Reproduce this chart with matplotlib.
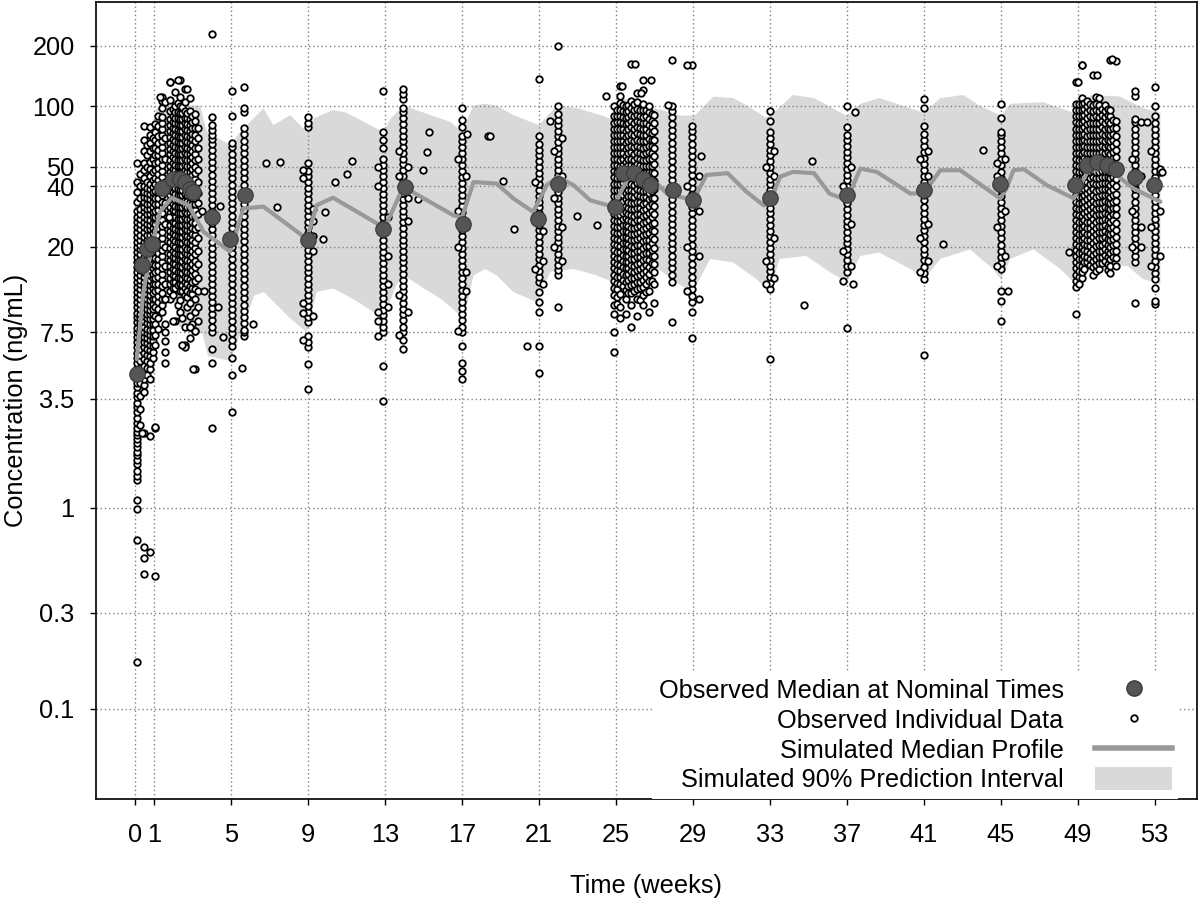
import numpy as np
import matplotlib
matplotlib.use("Agg")
import matplotlib.pyplot as plt
from matplotlib.lines import Line2D
from matplotlib.patches import Patch

plt.rcParams['font.family'] = ['Liberation Sans', 'DejaVu Sans']

# ---------------- data ----------------
xticks = [0, 1, 5, 9, 13, 17, 21, 25, 29, 33, 37, 41, 45, 49, 53]
yticks = [0.1, 0.3, 1, 3.5, 7.5, 20, 40, 50, 100, 200]
ytick_labels = ["0.1", "0.3", "1", "3.5", "7.5", "20", "40", "50", "100", "200"]

# simulated 90% prediction interval
pi_upper_t = [0.1, 0.5, 1.1, 1.35, 3.39, 3.74, 4.95, 5.47, 6.68, 7.2, 8.07, 8.93, 9.28, 10.3, 11.0,
              12.9, 13.3, 13.95, 16.38, 17.0, 17.6, 18.2, 18.8, 19.67, 21.0, 21.93, 23.0, 24.3, 25.05,
              25.4, 27.0, 28.4, 29.1, 30.07, 31.1, 31.8, 32.8, 33.2, 34.2, 35.3, 36.7, 37.0, 37.7,
              38.7, 40.3, 41.0, 41.86, 43.06, 43.9, 45.0, 45.5, 47.2, 48.8, 49.7, 51.2, 52.4, 53.3]
pi_upper_v = [12, 40, 97, 101, 101, 74.7, 64.2, 74.7, 97.7, 80.7, 90.5, 74.7, 87, 96, 93,
              74.7, 87, 101, 83.9, 75, 101, 103, 101, 90.5, 80.7, 101, 98, 90, 84,
              109.6, 98, 90, 90, 112, 110, 101, 88, 93, 114, 110, 93, 90, 103,
              110, 98, 93, 110, 114, 101, 90, 103, 105, 93, 114, 112, 98, 93]
pi_lower_t = [0.1, 0.5, 1.0, 1.35, 1.95, 2.3, 3.5, 3.8, 4.95, 5.5, 6.2, 6.7, 8.07, 8.93, 9.45, 10.3,
              11.4, 12.9, 13.6, 13.95, 15.9, 17.1, 17.6, 18.2, 18.8, 19.67, 20.9, 21.6, 22.8, 24.0,
              24.87, 25.57, 27.0, 28.4, 29.0, 29.9, 31.1, 32.3, 33.0, 33.5, 34.9, 36.1, 37.0, 37.7,
              38.7, 40.3, 41.0, 41.86, 43.4, 44.6, 45.0, 45.5, 46.7, 48.1, 48.8, 49.5, 51.6, 52.4, 53.3]
pi_lower_v = [2.2, 4.5, 7.5, 11.5, 11.5, 8.0, 7.5, 5.7, 5.4, 7.5, 11.4, 11.9, 8.8, 7.5, 11.9, 12.4,
              10.9, 8.8, 12.9, 14.4, 11, 8.8, 14.4, 15.5, 14.4, 11.9, 10.6, 15, 15.5, 14.4,
              13.3, 16.7, 16, 12.8, 11.9, 17.4, 16.7, 13.8, 11.9, 17.4, 18, 15, 13.3, 18,
              18.7, 15.5, 13.8, 17.4, 19.4, 15.5, 13.8, 17.4, 19.4, 15.5, 13.3, 16.7, 16, 13.8, 13]

# simulated median profile
sim_t = [0.1, 0.44, 0.88, 1.31, 1.92, 2.78, 3.56, 4.95, 5.64, 6.68, 8.93, 9.45, 10.3, 12.74, 13.0,
         13.95, 16.55, 17.0, 17.6, 18.8, 19.67, 20.7, 21.4, 22.0, 22.8, 23.66, 24.87, 25.57, 26.1,
         26.95, 27.65, 29.03, 29.7, 30.8, 31.8, 32.67, 33.0, 33.53, 34.2, 35.3, 36.1, 37.0, 37.7,
         38.56, 40.3, 41.0, 41.86, 42.9, 44.97, 45.3, 45.66, 46.2, 47.4, 48.8, 49.5, 50.2, 50.9,
         51.9, 53.3]
sim_med = [5.5, 11.9, 20.2, 29.9, 35.1, 32.2, 23.8, 18.9, 31, 31.7, 21.9, 32.2, 35.1, 25.6, 25,
           39.8, 28.7, 28, 42, 41.3, 34.8, 29.8, 40.5, 44.6, 40.5, 34.1, 31.6, 43, 46.5,
           43, 36.8, 34.1, 45.5, 46.5, 37.5, 32.2, 33, 44.6, 47.2, 46.5, 36.8, 34.1, 49,
           47.2, 36.8, 37, 48.1, 48.1, 34.8, 39, 48.1, 48.7, 40.5, 34.8, 47.2, 49, 46.5,
           39, 33.5]

# observed medians at nominal times
med_t = [0.12, 0.36, 0.62, 0.88, 1.4, 2.0, 2.35, 2.6, 2.87, 3.04, 4.0, 4.95, 5.73, 9.02, 12.9,
         14.04, 17.07, 20.97, 22.0, 24.96, 25.39, 25.95, 26.43, 26.78, 27.99, 29.03, 33.0, 37.0,
         41.0, 44.97, 48.87, 49.5, 50.0, 50.5, 51.0, 51.98, 52.94]
med_v = [4.66, 16.2, 19.5, 20.7, 39.3, 43.7, 43.7, 42, 39, 37.5, 28.2, 21.9, 36.1, 21.5, 24.6,
         39.8, 26.1, 27.6, 41.3, 31.6, 46.5, 46.5, 43.7, 40.5, 38.2, 34.1, 34.8, 36.1,
         38.2, 41.3, 40.5, 51, 53, 51, 49, 44.6, 40.5]

# observed individual data, grouped by sampling column (time in weeks -> concentrations)
obs_w0a = [0.17, 0.69, 0.99, 1.1, 1.38, 1.44, 1.52, 1.65, 1.74, 1.84, 1.9, 2.0, 2.1, 2.2, 2.3, 2.4,
           2.5, 2.65, 2.8, 3.0, 3.2, 3.35, 3.55, 3.75, 4.0, 4.2, 4.45, 4.7, 5.0, 5.3, 5.6, 5.9, 6.3,
           6.7, 7.1, 7.5, 7.9, 8.4, 8.9, 9.4, 10, 10.6, 11.2, 11.9, 12.6, 13.3, 14.1, 15, 15.8, 16.8,
           17.8, 18.8, 20, 21, 22.4, 23.7, 25, 26.6, 28, 30, 33.5, 37.6, 42, 52]
obs_w0i = [2.6, 3.1, 3.6, 4.2, 4.6, 5.0, 5.4, 5.8, 6.2, 6.6, 7.0, 7.4, 7.8, 8.3, 8.8, 9.3, 9.8,
           10.4, 11.0, 11.6, 12.3, 13.0, 13.7, 14.5, 15.4, 16.3, 17.3, 18.3, 19.4, 20.5, 21.7, 23.0,
           24.4, 25.9, 27.5, 29.2, 31, 35, 40, 46]
obs_w0b = [0.64, 0.56, 0.47, 2.36, 3.8, 4.1, 4.4, 4.8, 5.1, 5.5, 5.9, 6.3, 6.7, 7.1, 7.5, 8.0,
           8.5, 9.0, 9.5, 10, 10.6, 11.2, 11.9, 12.6, 13.3, 14.1, 15, 15.8, 16.8, 17.8, 18.8, 20, 21,
           22.4, 23.7, 25, 26.6, 28, 30, 31.6, 33.5, 35.5, 37.6, 40, 44, 48, 52, 60, 68, 80]
obs_w0j = [4.6, 5.0, 5.4, 5.8, 6.2, 6.6, 7.0, 7.4, 7.8, 8.3, 8.8, 9.3, 9.8, 10.4, 11.0, 11.6, 12.3,
           13.0, 13.7, 14.5, 15.4, 16.3, 17.3, 18.3, 19.4, 20.5, 21.7, 23.0, 24.4, 25.9, 27.5, 29.2,
           31, 32.8, 34.8, 36.9, 39.1, 42, 50, 57, 64]
obs_w0c = [0.6, 2.27, 4.4, 4.9, 5.3, 5.7, 6.1, 6.5, 6.9, 7.3, 7.7, 8.2, 8.7, 9.2, 9.7, 10.3, 10.9,
           11.5, 12.2, 12.9, 13.7, 14.5, 15.4, 16.3, 17.3, 18.3, 19.4, 20.5, 21.7, 23, 24.4, 25.8,
           27.3, 29, 30.7, 32.5, 34.4, 36.5, 38.6, 41, 45, 49, 53, 60, 66, 72, 79]
obs_w0k = [5.6, 6.0, 6.4, 6.8, 7.2, 7.7, 8.2, 8.7, 9.2, 9.8, 10.4, 11.0, 11.7, 12.4, 13.1, 13.9,
           14.7, 15.6, 16.5, 17.5, 18.6, 19.7, 20.9, 22.2, 23.5, 24.9, 26.4, 28, 29.7, 31.5, 33.4,
           35.4, 37.5, 39.8, 43, 47, 55, 62, 70]
obs_w0d = [0.46, 2.5, 2.52, 6.5, 7.3, 8.2, 9.0, 10, 11, 12, 13, 14, 15, 16.3, 17.5, 19, 20.5, 22,
           24, 26, 28, 30, 32.5, 35, 38, 41, 44, 48, 52, 57, 62, 68, 75, 82]
obs_w1i = [7.8, 8.8, 9.8, 10.6, 11.4, 12.2, 13.1, 14.1, 15.1, 16.2, 17.4, 18.7, 20, 21.5, 23, 24.7,
           26.5, 28.4, 30.4, 32.6, 35, 37.5, 40.2, 43.1, 46.2, 49.5, 53, 57, 61, 66, 71, 80, 90]
obs_w1a = [9.5, 10.2, 11, 11.8, 12.7, 13.6, 14.6, 15.7, 16.8, 18, 19.3, 20.7, 22.2, 23.8, 25.5,
           27.3, 29.3, 31.4, 33.6, 36, 38.6, 41.4, 44.4, 47.6, 51, 54.6, 58.5, 62.7, 67, 72, 77,
           83, 89, 98, 106, 111]
obs_w1b = [5.3, 6.0, 6.8, 7.5, 8.2, 11, 13, 16, 20, 26, 33, 42, 55, 70, 105]
obs_w2a = [11, 12, 13, 14, 15, 16, 17.2, 18.4, 19.7, 21, 22.5, 24, 25.7, 27.5, 29.4, 31.5, 33.7,
           36, 38.5, 41.2, 44, 47, 50.4, 54, 57.7, 61.7, 66, 70.6, 75.5, 81, 87, 95, 108, 133]
obs_w2i = [11.5, 12.4, 13.4, 14.4, 15.5, 16.6, 17.8, 19.1, 20.4, 21.8, 23.3, 24.9, 26.6, 28.5,
           30.5, 32.6, 34.9, 37.3, 39.9, 42.7, 45.7, 48.9, 52.3, 56, 59.9, 64.1, 68.6, 73.4, 78.5,
           84, 90, 97]
obs_w2b = [8.5, 12.5, 13.4, 14.3, 15.3, 16.4, 17.5, 18.7, 20, 21.4, 22.9, 24.5, 26.2, 28, 30, 32,
           34.3, 36.7, 39.2, 42, 45, 48, 51.3, 55, 58.8, 63, 67.3, 72, 77, 82.4, 88, 94, 101, 118]
obs_w2j = [10.2, 12.9, 13.9, 14.9, 16, 17.1, 18.3, 19.6, 21, 22.5, 24.1, 25.8, 27.6, 29.5, 31.6,
           33.8, 36.2, 38.7, 41.4, 44.3, 47.4, 50.7, 54.3, 58.1, 62.2, 66.5, 71.2, 76.2, 81.5, 87.2,
           93.3, 104]
obs_w2c = [9.5, 10.8, 12, 13, 14, 15, 16, 17.1, 18.3, 19.6, 21, 22.4, 24, 25.7, 27.5, 29.4, 31.4,
           33.6, 36, 38.5, 41.2, 44, 47, 50.4, 54, 57.7, 61.7, 66, 70.6, 75.5, 81, 87, 93, 100, 112,
           136]
obs_w2k = [8.8, 12, 12.9, 13.8, 14.8, 15.8, 16.9, 18.1, 19.4, 20.8, 22.3, 23.9, 25.6, 27.4, 29.3,
           31.4, 33.6, 36, 38.5, 41.2, 44.1, 47.2, 50.5, 54, 57.8, 61.8, 66.1, 70.7, 75.6, 80.9, 86.6,
           92.7, 99]
obs_w2d = [6.5, 6.3, 8.0, 11.5, 12.4, 13.3, 14.2, 15.2, 16.3, 17.4, 18.6, 19.9, 21.3, 22.8, 24.4,
           26.1, 27.9, 29.9, 32, 34.2, 36.6, 39.2, 41.9, 44.8, 48, 51.3, 54.9, 58.8, 62.9, 67.3, 72,
           77, 82.4, 88, 95, 105, 122]
obs_w2l = [10, 11.2, 12.1, 13, 13.9, 14.9, 16, 17.1, 18.3, 19.6, 21, 22.5, 24.1, 25.8, 27.6, 29.5,
           31.6, 33.8, 36.2, 38.7, 41.4, 44.3, 47.4, 50.7, 54.3, 58.1, 62.2, 66.5, 71.2, 76.2, 81.5,
           87.2, 93]
obs_w2e = [7.0, 8.0, 9.0, 10.5, 11.8, 12.8, 13.8, 14.8, 15.9, 17, 18.2, 19.5, 20.9, 22.4, 24, 25.6,
           27.4, 29.3, 31.4, 33.6, 36, 38.5, 41.2, 44, 47, 50.4, 54, 57.7, 61.7, 66, 70.6, 75.5, 81,
           87, 95, 110]
obs_w2m = [8.2, 11.6, 12.5, 13.4, 14.4, 15.4, 16.5, 17.7, 19, 20.3, 21.7, 23.2, 24.8, 26.5, 28.4,
           30.4, 32.5, 34.8, 37.2, 39.8, 42.6, 45.6, 48.8, 52.2, 55.9, 59.8, 64, 68.5, 73.3, 78.4,
           84, 90]
obs_w3a = [4.9, 7.6, 9.5, 11, 12.3, 13.5, 14.6, 15.8, 17, 18.3, 19.7, 21.2, 22.8, 24.5, 26.3, 28.3,
           30.4, 32.7, 35.1, 37.7, 40.5, 43.5, 46.7, 50.2, 54, 58, 62, 67, 72, 78, 85, 92]
obs_w3b = [8.5, 10, 12, 14, 16.5, 19, 22, 25, 29, 33, 37, 42, 48, 55, 62, 70, 78]
obs_w4 = [2.5, 5.3, 6.2, 7.5, 8.0, 8.6, 9.2, 9.9, 10.6, 11.4, 12.2, 13.1, 14, 15, 16.1, 17.3, 18.5,
          19.8, 21.2, 22.8, 24.4, 26.2, 28.1, 30.1, 32.3, 34.6, 37.1, 39.8, 42.7, 45.8, 49.1, 52.6,
          56.4, 60.5, 64.9, 69, 72, 76, 81, 88.7, 230]
obs_w5 = [3.0, 4.6, 5.6, 6.4, 6.9, 7.4, 7.9, 8.5, 9.1, 9.8, 10.5, 11.3, 12.1, 13, 14, 15, 16.1,
          17.3, 18.6, 20, 21.5, 23.1, 24.8, 26.6, 28.6, 30.7, 33, 35.4, 38, 40.8, 43.8, 47, 50.5,
          54.2, 58.2, 62.5, 66, 90, 120]
obs_w5b = [7.2, 7.5, 7.7, 8.3, 8.9, 9.6, 10.3, 11.1, 11.9, 12.8, 13.8, 14.8, 15.9, 17.1, 18.4,
           19.8, 21.3, 22.9, 24.6, 26.4, 28.4, 30.5, 32.8, 35.3, 37.9, 40.7, 43.8, 47.1, 50.6, 54.4,
           58.5, 62.9, 67.6, 72.7, 78, 94, 98, 125]
obs_w9 = [3.9, 5.2, 6.3, 6.7, 7.2, 8.4, 8.9, 9.5, 10.1, 10.8, 11.5, 12.3, 13.1, 14, 14.9, 15.9, 17,
          18.1, 19.3, 20.6, 22, 23.5, 25, 26.7, 28.5, 30.4, 32.4, 34.6, 36.9, 39.4, 42, 44.8, 47.8,
          52, 79, 83, 88.7]
obs_w9l = [48, 44, 10.5, 9.4, 6.9]
obs_w9r = [31, 27, 22.5, 19, 9]
obs_w13 = [3.4, 5.1, 7.5, 8.0, 8.5, 9.1, 9.7, 10.4, 11.1, 11.9, 12.7, 13.6, 14.5, 15.5, 16.6, 17.7,
           18.9, 20.2, 21.6, 23.1, 24.7, 26.4, 28.2, 30.1, 32.2, 34.4, 36.8, 39.3, 42, 44.9, 48,
           51.3, 54.7, 62, 68, 75, 119]
obs_w13l = [50, 40, 9.5, 8.5, 7.2]
obs_w13r = [28, 18, 13, 10]
obs_w14 = [6.2, 6.9, 7.5, 8.0, 8.6, 9.2, 9.8, 10.5, 11.2, 12, 12.8, 13.7, 14.6, 15.6, 16.7, 17.8,
           19, 20.3, 21.7, 23.2, 24.8, 26.5, 28.3, 30.2, 32.3, 34.5, 36.9, 39.4, 42.1, 45, 48.1,
           51.4, 54.9, 58.7, 62.7, 67, 71.6, 76.5, 81.7, 87.3, 93.3, 98, 109, 115, 122]
obs_w14l = [60, 45, 11.5, 7.3]
obs_w14r = [50, 35, 27, 9.5]
obs_w17 = [4.4, 4.8, 5.3, 6.4, 7.5, 8.0, 8.6, 9.2, 9.9, 10.6, 11.4, 12.2, 13.1, 14, 15, 16.1, 17.2,
           18.4, 19.7, 21.1, 22.6, 24.2, 25.9, 27.7, 29.7, 31.8, 34, 36.4, 39, 41.7, 44.6, 47.7, 51,
           54.6, 58.4, 62.5, 66.9, 71, 79, 86, 98]
obs_w17l = [55, 30, 20, 7.6]
obs_w17r = [45, 25, 15, 12]
obs_w21 = [4.7, 6.4, 9.5, 10.6, 11.9, 13.3, 14.2, 15.2, 16.2, 17.3, 18.5, 19.8, 21.1, 22.6, 24.1,
           25.8, 27.5, 29.4, 31.4, 33.6, 35.9, 38.3, 41, 43.8, 46.8, 50, 53.4, 57, 61, 65, 71, 137]
obs_w21l = [42, 28, 15.5]
obs_w21r = [24, 17, 13]
obs_w22 = [10, 14.4, 15.3, 16.3, 17.4, 18.5, 19.7, 21, 22.4, 23.9, 25.5, 27.2, 29, 30.9, 32.9,
           35.1, 37.4, 39.9, 42.5, 45.3, 48.3, 51.5, 54.9, 58.5, 62.4, 66.5, 70.9, 75.6, 80.6, 85.9,
           91.6, 101, 200]
obs_w22l = [60, 35, 20]
obs_w22r = [70, 45, 25, 17]
obs_w25a = [6.0, 7.5, 9.3, 10.2, 11.5, 12.5, 13.5, 14.5, 15.6, 16.7, 17.9, 19.2, 20.6, 22.1, 23.7,
            25.4, 27.2, 29.2, 31.3, 33.5, 35.9, 38.5, 41.3, 44.3, 47.5, 51, 54.6, 58.6, 62.8, 67.3,
            72, 77, 83, 90, 100]
obs_w25i = [10.4, 11.3, 12.3, 13.2, 14.2, 15.3, 16.4, 17.6, 18.9, 20.3, 21.8, 23.4, 25.1, 26.9,
            28.9, 31, 33.3, 35.7, 38.3, 41.1, 44.1, 47.3, 50.8, 54.5, 58.5, 62.8, 67.4, 72.3, 77.6,
            83.3, 89.4, 96]
obs_w25b = [8.8, 10, 11.6, 13, 14.1, 15.2, 16.3, 17.5, 18.8, 20.2, 21.7, 23.3, 25, 26.8, 28.8,
            30.9, 33.2, 35.6, 38.2, 41, 44, 47.2, 50.7, 54.4, 58.4, 62.7, 67.3, 72.2, 77.5, 83.2,
            89.3, 96, 104, 113, 126]
obs_w25j = [12.8, 13.7, 14.7, 15.8, 16.9, 18.1, 19.4, 20.8, 22.3, 23.9, 25.6, 27.4, 29.4, 31.5,
            33.8, 36.2, 38.8, 41.6, 44.6, 47.8, 51.2, 54.9, 58.8, 63, 67.5, 72.3, 77.5, 83, 89,
            95.3, 102]
obs_w25c = [9.3, 11, 12.2, 13.4, 14.5, 15.6, 16.8, 18, 19.4, 20.8, 22.4, 24, 25.8, 27.7, 29.8, 32,
            34.4, 37, 39.7, 42.7, 45.9, 49.3, 53, 56.9, 61.1, 65.7, 70.6, 75.8, 81.5, 87.5, 94, 101]
obs_w25k = [11.8, 12.7, 13.6, 14.6, 15.6, 16.7, 17.9, 19.2, 20.6, 22.1, 23.7, 25.4, 27.2, 29.2,
            31.3, 33.5, 35.9, 38.5, 41.3, 44.3, 47.5, 50.9, 54.6, 58.5, 62.7, 67.2, 72, 77.2, 82.8,
            88.8, 95.2, 102]
obs_w26a = [8.0, 10.3, 11.8, 12.9, 14, 15.1, 16.2, 17.4, 18.7, 20.1, 21.6, 23.2, 24.9, 26.8, 28.8,
            30.9, 33.2, 35.7, 38.4, 41.2, 44.3, 47.6, 51.1, 54.9, 59, 63.4, 68.1, 73.2, 78.6, 84.5,
            90.8, 98, 106, 163]
obs_w26i = [12.1, 13, 14, 15, 16.1, 17.3, 18.6, 20, 21.5, 23.1, 24.8, 26.6, 28.6, 30.7, 33, 35.4,
            38, 40.8, 43.8, 47, 50.5, 54.2, 58.2, 62.5, 67.1, 72, 77.3, 83, 89.1, 95.7, 103]
obs_w26b = [9.0, 11.0, 12.3, 13.3, 14.3, 15.4, 16.5, 17.7, 19, 20.4, 21.9, 23.5, 25.2, 27.1, 29.1,
            31.2, 33.5, 36, 38.7, 41.5, 44.6, 47.9, 51.4, 55.2, 59.3, 63.7, 68.4, 73.4, 78.9, 84.7,
            91, 97, 105, 117]
obs_w26j = [10.8, 12.5, 13.4, 14.4, 15.5, 16.6, 17.8, 19.1, 20.5, 22, 23.6, 25.3, 27.1, 29.1,
            31.2, 33.5, 35.9, 38.5, 41.3, 44.3, 47.5, 51, 54.7, 58.7, 63, 67.6, 72.5, 77.8, 83.5,
            89.6, 96]
obs_w26c = [10.2, 11.5, 12.6, 13.7, 14.8, 15.9, 17.1, 18.4, 19.8, 21.3, 22.9, 24.6, 26.4, 28.4,
            30.5, 32.8, 35.2, 37.8, 40.6, 43.6, 46.8, 50.3, 54, 58, 62.3, 66.9, 71.9, 77.2, 83, 89,
            96, 103, 121, 135]
obs_w26k = [11.9, 13.1, 14.1, 15.1, 16.2, 17.4, 18.7, 20.1, 21.6, 23.2, 24.9, 26.7, 28.7, 30.8,
            33.1, 35.5, 38.1, 40.9, 43.9, 47.1, 50.6, 54.3, 58.3, 62.6, 67.2, 72.1, 77.4, 83.1, 89.2,
            96]
obs_w26d = [9.5, 12, 13.5, 14.7, 15.9, 17.2, 18.6, 20.1, 21.7, 23.4, 25.3, 27.3, 29.5, 31.9, 34.4,
            37.2, 40.2, 43.4, 46.9, 50.6, 54.7, 59.1, 63.8, 68.9, 74.4, 80.4, 86.8, 94, 101]
obs_w26l = [13.5, 15.4, 16.6, 17.9, 19.3, 20.8, 22.4, 24.1, 26, 28, 30.2, 32.5, 35, 37.7, 40.6,
            43.7, 47.1, 50.7, 54.6, 58.8, 63.3, 68.2, 73.4, 79, 85, 92]
obs_w27 = [10.5, 13, 15, 16.5, 18, 19.8, 21.8, 24, 26.4, 29, 31.9, 35.1, 38.6, 42.5, 46.7, 51.4,
           56.5, 62.2, 68.4, 75.2, 82.7, 91]
obs_w28 = [8.4, 13.3, 14.5, 15.6, 16.8, 18, 19.4, 20.8, 22.4, 24.1, 25.9, 27.8, 29.9, 32.1, 34.5,
           37.1, 39.9, 42.9, 46.1, 49.5, 53.2, 57.2, 61.5, 66.1, 71, 76.4, 82.1, 88.2, 94.8, 101, 170]
obs_w29 = [7.0, 9.5, 10.6, 11.4, 12.3, 13.2, 14.2, 15.3, 16.4, 17.7, 19, 20.4, 22, 23.6, 25.4,
           27.3, 29.4, 31.6, 34, 36.5, 39.3, 42.2, 45.4, 48.8, 52.5, 56.4, 60.7, 65.2, 70.1, 75.4,
           80, 160]
obs_w29l = [12, 20, 40]
obs_w29r = [11, 18, 30, 45]
obs_w33 = [5.5, 12.3, 13.2, 14.1, 15.1, 16.1, 17.2, 18.4, 19.7, 21, 22.5, 24, 25.7, 27.4, 29.3,
           31.3, 33.5, 35.8, 38.2, 40.9, 43.7, 46.7, 49.9, 53.3, 57, 61, 65.1, 69.6, 75, 85, 95]
obs_w33l = [13, 17, 50]
obs_w33r = [14, 22, 45, 60]
obs_w37 = [7.9, 15, 16, 17.1, 18.3, 19.5, 20.8, 22.2, 23.7, 25.3, 27, 28.9, 30.8, 32.9, 35.1,
           37.5, 40.1, 42.8, 45.7, 48.8, 52.1, 55.7, 59.5, 63.5, 67.8, 72.4, 79, 101]
obs_w37l = [13.5, 19, 40]
obs_w37r = [16, 26, 50]
obs_w41 = [5.8, 13.8, 14.8, 15.9, 17.1, 18.3, 19.6, 21, 22.5, 24.1, 25.8, 27.6, 29.6, 31.7, 34,
           36.4, 39, 41.8, 44.8, 48, 51.4, 55.1, 59, 63.2, 67.7, 72.5, 80, 98, 109]
obs_w41l = [15, 22, 38, 55]
obs_w41r = [17, 26, 45, 60]
obs_w45 = [8.5, 10.7, 12, 15.5, 16.6, 17.8, 19.1, 20.5, 22, 23.6, 25.3, 27.1, 29.1, 31.2, 33.4,
           35.8, 38.4, 41.2, 44.2, 47.4, 50.8, 54.5, 58.4, 62.6, 67.1, 71.9, 75, 88, 103]
obs_w45l = [16, 25, 45, 52]
obs_w45r = [18, 30, 55]
obs_w49a = [9.2, 12.6, 13.5, 14.5, 15.6, 16.7, 17.9, 19.2, 20.6, 22.1, 23.7, 25.4, 27.2, 29.2,
            31.3, 33.6, 36, 38.6, 41.4, 44.4, 47.6, 51, 54.7, 58.7, 62.9, 67.5, 72.4, 77.6, 83.2,
            89.2, 95.7, 103, 133]
obs_w49i = [13, 14.1, 15.1, 16.2, 17.4, 18.7, 20.1, 21.6, 23.2, 24.9, 26.7, 28.7, 30.8, 33.1, 35.5,
            38.1, 40.9, 43.9, 47.1, 50.6, 54.3, 58.3, 62.6, 67.2, 72.1, 77.4, 83.1, 89.2, 95.8, 103]
obs_w49b = [14, 15, 16.1, 17.3, 18.6, 20, 21.5, 23.1, 24.8, 26.6, 28.6, 30.7, 33, 35.4, 38, 40.8,
            43.8, 47, 50.5, 54.2, 58.2, 62.5, 67.1, 72, 77.3, 83, 89.1, 95.7, 103, 110, 160]
obs_w49j = [15.5, 16.7, 17.9, 19.2, 20.6, 22.1, 23.7, 25.4, 27.3, 29.3, 31.4, 33.7, 36.2, 38.8,
            41.6, 44.7, 48, 51.5, 55.3, 59.3, 63.7, 68.3, 73.3, 78.7, 84.5, 90.7, 97.3, 104]
obs_w49c = [16.7, 17.8, 19, 20.3, 21.7, 23.2, 24.8, 26.5, 28.3, 30.2, 32.3, 34.5, 36.9, 39.4,
            42.1, 45, 48.1, 51.4, 54.9, 58.7, 62.7, 67, 71.6, 76.5, 81.7, 87.3, 93.3, 100, 106]
obs_w49k = [16.2, 17.4, 18.7, 20.1, 21.6, 23.2, 24.9, 26.7, 28.7, 30.8, 33.1, 35.5, 38.1, 40.9,
            43.9, 47.1, 50.6, 54.3, 58.3, 62.6, 67.2, 72.1, 77.4, 83.1, 89.2, 95.8, 103]
obs_w50a = [14.5, 15.8, 17, 18.2, 19.5, 20.9, 22.4, 24, 25.7, 27.5, 29.5, 31.6, 33.9, 36.3, 38.9,
            41.7, 44.7, 47.9, 51.3, 55, 58.9, 63.1, 67.6, 72.4, 77.6, 83.1, 89, 95.4, 102, 143]
obs_w50i = [15.1, 16.2, 17.4, 18.7, 20.1, 21.6, 23.2, 24.9, 26.7, 28.7, 30.8, 33.1, 35.5, 38.1,
            40.9, 43.9, 47.1, 50.6, 54.3, 58.3, 62.6, 67.2, 72.1, 77.4, 83.1, 89.2, 95.8, 103, 111]
obs_w50b = [15.5, 16.6, 17.8, 19.1, 20.5, 22, 23.6, 25.3, 27.1, 29.1, 31.2, 33.4, 35.8, 38.4,
            41.2, 44.2, 47.4, 50.8, 54.5, 58.4, 62.6, 67.1, 71.9, 77.1, 82.7, 88.7, 95.1, 102, 110]
obs_w50j = [16.6, 17.8, 19.1, 20.5, 22, 23.6, 25.3, 27.2, 29.2, 31.3, 33.6, 36.1, 38.7, 41.6,
            44.6, 47.9, 51.4, 55.2, 59.2, 63.6, 68.2, 73.2, 78.6, 84.4, 90.6, 97.2]
obs_w50c = [17, 18.2, 19.5, 20.9, 22.4, 24, 25.7, 27.5, 29.5, 31.6, 33.9, 36.3, 38.9, 41.7, 44.7,
            47.9, 51.3, 55, 58.9, 63.1, 67.6, 72.4, 77.6, 83.1, 89, 95.4, 102]
obs_w50k = [15.4, 16.5, 17.7, 19, 20.4, 21.9, 23.5, 25.2, 27.1, 29.1, 31.2, 33.5, 36, 38.6, 41.5,
            44.5, 47.8, 51.3, 55.1, 59.1, 63.5, 68.1, 73.1, 78.5, 84.3, 90.5, 97]
obs_w51a = [14.8, 16, 17.3, 18.6, 20, 21.5, 23.1, 24.8, 26.6, 28.6, 30.7, 33, 35.4, 38, 40.8,
            43.8, 47, 50.5, 54.2, 58.2, 62.5, 67.1, 72, 77.3, 83, 89.1, 96, 170]
obs_w51i = [17.7, 19, 20.4, 21.9, 23.5, 25.2, 27.1, 29.1, 31.2, 33.5, 36, 38.6, 41.5, 44.5, 47.8,
            51.3, 55.1, 59.1, 63.5, 68.1, 73.1, 78.5, 86]
obs_w51b = [16, 17.5, 19, 20.6, 22.4, 24.3, 26.4, 28.7, 31.2, 33.9, 36.8, 40, 43.5, 47.2, 51.3,
            55.8, 60.6, 65.8, 71.5, 77.7, 84.4, 168]
obs_w52 = [10.5, 16.7, 17.9, 19.2, 20.6, 22.1, 23.7, 25.4, 27.2, 29.2, 31.3, 33.6, 36, 38.6, 41.4,
           44.4, 47.6, 51, 54.7, 58.7, 62.9, 67.5, 72.4, 77.6, 83.2, 87, 113, 120]
obs_w52l = [20, 30, 55]
obs_w52r = [20, 25, 45, 84]
obs_w53 = [10.4, 10.7, 12.5, 13.8, 14.8, 15.9, 17, 18.2, 19.5, 20.9, 22.4, 24, 25.7, 27.5, 29.5,
           31.6, 33.9, 36.3, 38.9, 41.7, 44.7, 47.9, 51.3, 55, 58.9, 63.1, 67.6, 72.4, 77.6, 83.1,
           90, 101, 125]
obs_w53l = [16, 25, 40, 60]
obs_w53r = [47, 49, 30, 18]

# sampling time (weeks) of each column above
obs_columns = [
    (0.1, obs_w0a), (0.28, obs_w0i), (0.45, obs_w0b), (0.63, obs_w0j), (0.8, obs_w0c),
    (0.93, obs_w0k), (1.05, obs_w0d), (1.22, obs_w1i), (1.4, obs_w1a), (1.55, obs_w1b),
    (1.85, obs_w2a), (1.97, obs_w2i), (2.1, obs_w2b), (2.22, obs_w2j), (2.35, obs_w2c),
    (2.47, obs_w2k), (2.6, obs_w2d), (2.72, obs_w2l), (2.85, obs_w2e), (2.97, obs_w2m),
    (3.1, obs_w3a), (3.3, obs_w3b), (4.0, obs_w4), (5.03, obs_w5),
    (5.67, obs_w5b), (9.0, obs_w9), (8.75, obs_w9l), (9.25, obs_w9r), (12.9, obs_w13),
    (12.65, obs_w13l), (13.15, obs_w13r), (13.95, obs_w14), (13.75, obs_w14l),
    (14.2, obs_w14r), (17.0, obs_w17), (16.8, obs_w17l), (17.2, obs_w17r), (21.0, obs_w21),
    (20.8, obs_w21l), (21.2, obs_w21r), (22.0, obs_w22), (21.8, obs_w22l), (22.2, obs_w22r),
    (24.9, obs_w25a), (25.05, obs_w25i), (25.2, obs_w25b), (25.35, obs_w25j), (25.5, obs_w25c),
    (25.65, obs_w25k), (25.8, obs_w26a), (25.95, obs_w26i), (26.1, obs_w26b), (26.25, obs_w26j),
    (26.4, obs_w26c), (26.55, obs_w26k), (26.7, obs_w26d), (26.85, obs_w26l), (27.0, obs_w27),
    (27.9, obs_w28), (28.95, obs_w29),
    (28.7, obs_w29l), (29.3, obs_w29r), (33.0, obs_w33), (32.8, obs_w33l), (33.2, obs_w33r),
    (37.0, obs_w37), (36.8, obs_w37l), (37.2, obs_w37r), (41.0, obs_w41), (40.8, obs_w41l),
    (41.2, obs_w41r), (45.0, obs_w45), (44.8, obs_w45l), (45.2, obs_w45r),
    (48.9, obs_w49a), (49.05, obs_w49i), (49.2, obs_w49b), (49.35, obs_w49j), (49.5, obs_w49c),
    (49.65, obs_w49k), (49.8, obs_w50a), (49.95, obs_w50i), (50.1, obs_w50b), (50.25, obs_w50j),
    (50.4, obs_w50c), (50.55, obs_w50k), (50.7, obs_w51a), (50.85, obs_w51i), (51.0, obs_w51b),
    (52.0, obs_w52), (51.8, obs_w52l), (52.3, obs_w52r),
    (53.0, obs_w53), (52.8, obs_w53l), (53.3, obs_w53r),
]

# isolated observations (time, concentration)
iso_t = [7.55, 10.4, 11.0, 11.27, 15.3, 15.2, 15.0, 14.7, 17.25, 18.35, 9.8, 9.9, 7.4, 6.15, 5.55,
         4.6, 18.46, 19.15, 19.7, 20.4, 21.6, 23.0, 24.0, 24.5, 25.3, 26.0, 28.7, 27.7, 29.4,
         34.75, 35.2, 37.4, 37.3, 44.1, 42.0, 45.4, 49.2, 48.56, 4.43, 1.84, 2.25, 2.7, 1.3,
         2.0, 2.45, 3.03, 3.1, 2.87, 1.57, 0.36, 26.3, 26.8, 50.8, 50.0, 49.0, 52.6, 53.4,
         3.6, 4.3, 6.8, 3.5, 1.75]
iso_v = [52.8, 42, 46, 53.5, 75, 59, 48, 34.6, 73, 71, 21.8, 29.8, 31.5, 8.2, 5.0,
         7.1, 71, 42.5, 24.5, 6.4, 85, 28.4, 25.6, 113, 126, 163, 160, 102, 56.5,
         10.3, 53.5, 94, 13, 60.5, 20.6, 12, 160, 18.8, 31.9, 133, 136, 122, 111,
         8.5, 6.5, 4.9, 7.6, 8.0, 11, 2.36, 117, 135, 172, 143, 133, 84, 47,
         12, 10, 52, 30, 28]

# ---------------- plot ----------------
FS = 18.3
PT_S = 22
PT_LW = 1.3
fig = plt.figure(figsize=(12, 9.01), dpi=100)
ax = fig.add_axes([0.08, 0.1135, 0.9175, 0.8845])

band_x = np.concatenate([pi_upper_t, pi_lower_t[::-1]])
band_y = np.concatenate([pi_upper_v, pi_lower_v[::-1]])
ax.fill(band_x, band_y, color='#d9d9d9', linewidth=0, zorder=1)

for t, vals in obs_columns:
    ax.scatter(np.full(len(vals), t), vals, s=PT_S, facecolors='white', edgecolors='black',
               linewidths=PT_LW, zorder=3)
ax.scatter(iso_t, iso_v, s=PT_S, facecolors='white', edgecolors='black', linewidths=PT_LW,
           zorder=3)

ax.plot(sim_t, sim_med, color='#999999', lw=3.0, solid_capstyle='round', zorder=4)
ax.scatter(med_t, med_v, s=125, facecolors='#555555', edgecolors='#3a3a3a', linewidths=0.8,
           zorder=5)

ax.set_yscale('log')
ax.set_xlim(-2.02, 55.2)
ax.set_ylim(0.0356, 332)
ax.set_xticks(xticks)
ax.set_xticklabels([str(v) for v in xticks])
ax.set_yticks(yticks)
ax.set_yticklabels(ytick_labels)
ax.yaxis.set_minor_locator(matplotlib.ticker.NullLocator())
ax.tick_params(axis='both', which='major', labelsize=FS, length=4.3, width=1.0,
               direction='out', color='black')
ax.tick_params(axis='y', pad=11)
ax.tick_params(axis='x', pad=13)

ax.set_axisbelow('line')
ax.grid(True, which='major', color='#808080', linestyle=(0, (1, 2)), linewidth=1.0)
for sp in ax.spines.values():
    sp.set_linewidth(1.3)
    sp.set_color('#111111')

ax.set_xlabel('Time (weeks)', fontsize=FS)
ax.set_ylabel('Concentration (ng/mL)', fontsize=FS)
ax.xaxis.set_label_coords(0.5, -0.094)
ax.yaxis.set_label_coords(-0.062, 0.5)

handles = [
    Line2D([], [], linestyle='none', marker='o', markersize=11, markerfacecolor='#555555',
           markeredgecolor='#3a3a3a'),
    Line2D([], [], linestyle='none', marker='o', markersize=4.7, markerfacecolor='white',
           markeredgecolor='black', markeredgewidth=PT_LW),
    Line2D([], [], color='#999999', lw=4),
    Patch(facecolor='#d9d9d9', edgecolor='none'),
]
labels = ['Observed Median at Nominal Times', 'Observed Individual Data',
          'Simulated Median Profile', 'Simulated 90% Prediction Interval']
leg = ax.legend(handles, labels, loc='lower right', bbox_to_anchor=(1 - 19 / 1101, 0.0),
                markerfirst=False, fontsize=FS, frameon=True, fancybox=False,
                facecolor='white', edgecolor='none', framealpha=1.0,
                borderaxespad=0.0, borderpad=0.25, handlelength=3.0, handleheight=1.0,
                handletextpad=1.25, labelspacing=0.18)
leg.set_zorder(10)

fig.savefig('out.png', dpi=100)
